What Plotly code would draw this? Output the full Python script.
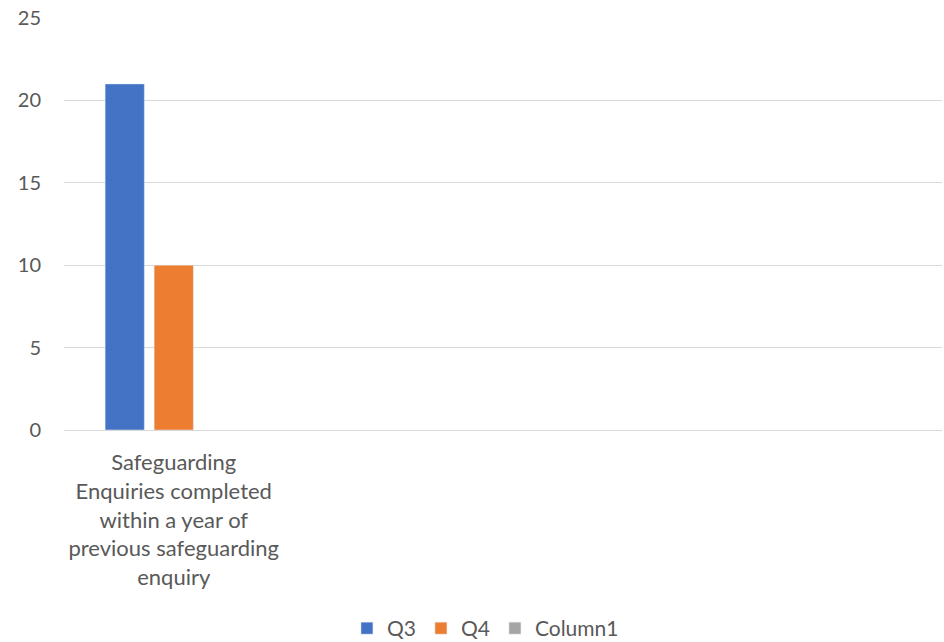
import plotly.graph_objects as go

# Category labels (only the first slot is named; the rest are empty slots)
categories = [
    "Safeguarding<br>Enquiries completed<br>within a year of<br>previous safeguarding<br>enquiry",
    " ",
    "  ",
    "   ",
]
q3 = [21, None, None, None]
q4 = [10, None, None, None]
column1 = [None, None, None, None]

y_ticks = [0, 5, 10, 15, 20, 25]

FONT = "Lato"
TEXT = "#595959"
GRID = "#d9d9d9"

fig = go.Figure()
fig.add_trace(go.Bar(name="Q3", x=categories, y=q3, marker_color="#4472C4"))
fig.add_trace(go.Bar(name="Q4", x=categories, y=q4, marker_color="#ED7D31"))
fig.add_trace(go.Bar(name="Column1", x=categories, y=column1, marker_color="#A5A5A5"))

fig.update_layout(
    width=944,
    height=642,
    margin=dict(l=64, r=2, t=18, b=212),
    paper_bgcolor="white",
    plot_bgcolor="white",
    barmode="group",
    bargap=0.33,
    bargroupgap=0.2,
    font=dict(family=FONT, size=20, color=TEXT),
    legend=dict(
        orientation="h",
        x=0.48,
        xanchor="center",
        yref="container",
        y=0.021,
        yanchor="middle",
        font=dict(family=FONT, size=21, color=TEXT),
        itemwidth=30,
        tracegroupgap=0,
    ),
    xaxis=dict(
        type="category",
        categoryorder="array",
        categoryarray=categories,
        showline=True,
        linecolor=GRID,
        linewidth=1,
        showgrid=False,
        ticks="",
        automargin=False,
        ticklabelstandoff=13,
        tickfont=dict(family=FONT, size=22, color=TEXT),
    ),
    yaxis=dict(
        range=[0, 25],
        tickvals=y_ticks,
        showgrid=True,
        gridcolor=GRID,
        gridwidth=1,
        zeroline=False,
        ticks="",
        automargin=False,
        ticklabelstandoff=22,
        tickfont=dict(family=FONT, size=20, color=TEXT),
    ),
)

fig.write_html("out.html")
